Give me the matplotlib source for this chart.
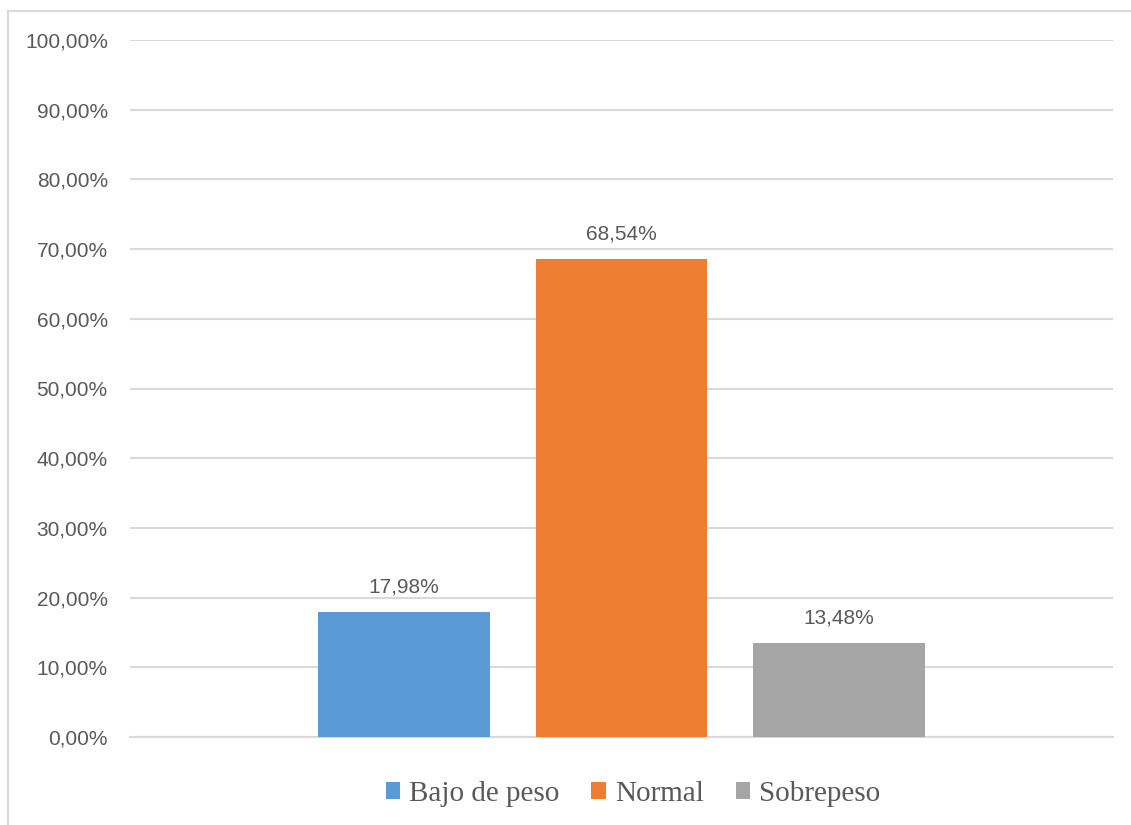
import matplotlib.pyplot as plt
from matplotlib.lines import Line2D
from matplotlib.ticker import FuncFormatter

# -----------------------------
# DATA
# -----------------------------
SERIES = ["Bajo de peso", "Normal", "Sobrepeso"]
VALUES = [0.1798, 0.6854, 0.1348]
COLORS = ["#5B9BD5", "#ED7D31", "#A5A5A5"]
Y_TICKS = [i / 10 for i in range(11)]

TEXT_COLOR = "#595959"
GRID_COLOR = "#D9D9D9"


def pct(v, _pos=None):
    return f"{v * 100:.2f}%".replace(".", ",")


fig = plt.figure(figsize=(11.31, 8.25), dpi=100)
ax = fig.add_axes([130 / 1131, 1 - 737 / 825, (1113 - 130) / 1131, (737 - 40) / 825])

# outer chart border (only top/left visible in the crop)
bx, by = 8 / 1131, 1 - 11 / 825
fig.add_artist(Line2D([bx, 1.0], [by, by], transform=fig.transFigure,
                      color=GRID_COLOR, linewidth=1.5))
fig.add_artist(Line2D([bx, bx], [0.0, by], transform=fig.transFigure,
                      color=GRID_COLOR, linewidth=1.5))

x = list(range(len(SERIES)))
bars = ax.bar(x, VALUES, width=0.79, color=COLORS, label=SERIES, zorder=3)

for xi, v in zip(x, VALUES):
    ax.annotate(pct(v), (xi, v), xytext=(0, 18), textcoords="offset points",
                ha="center", va="center", fontsize=15, color=TEXT_COLOR,
                family="Liberation Sans")

ax.set_xlim(-1.26, 3.26)
ax.set_ylim(0, 1)
ax.set_yticks(Y_TICKS)
ax.yaxis.set_major_formatter(FuncFormatter(pct))
ax.set_xticks([])
ax.tick_params(axis="y", length=0, pad=16, labelsize=15, labelcolor=TEXT_COLOR)
for lbl in ax.get_yticklabels():
    lbl.set_family("Liberation Sans")

ax.grid(True, axis="y", color=GRID_COLOR, linewidth=1.5, zorder=0)
for side in ["top", "right", "left"]:
    ax.spines[side].set_visible(False)
ax.spines["bottom"].set_color(GRID_COLOR)
ax.spines["bottom"].set_linewidth(1.5)

leg = fig.legend(handles=bars, labels=SERIES, loc="center",
                 bbox_to_anchor=(633 / 1131, 1 - 794 / 825), ncol=3,
                 frameon=False, handlelength=0.5, handleheight=0.5,
                 handletextpad=0.3, columnspacing=1.1,
                 prop={"family": "Liberation Serif", "size": 21})
for t in leg.get_texts():
    t.set_color(TEXT_COLOR)

fig.savefig("out.png", dpi=100)
